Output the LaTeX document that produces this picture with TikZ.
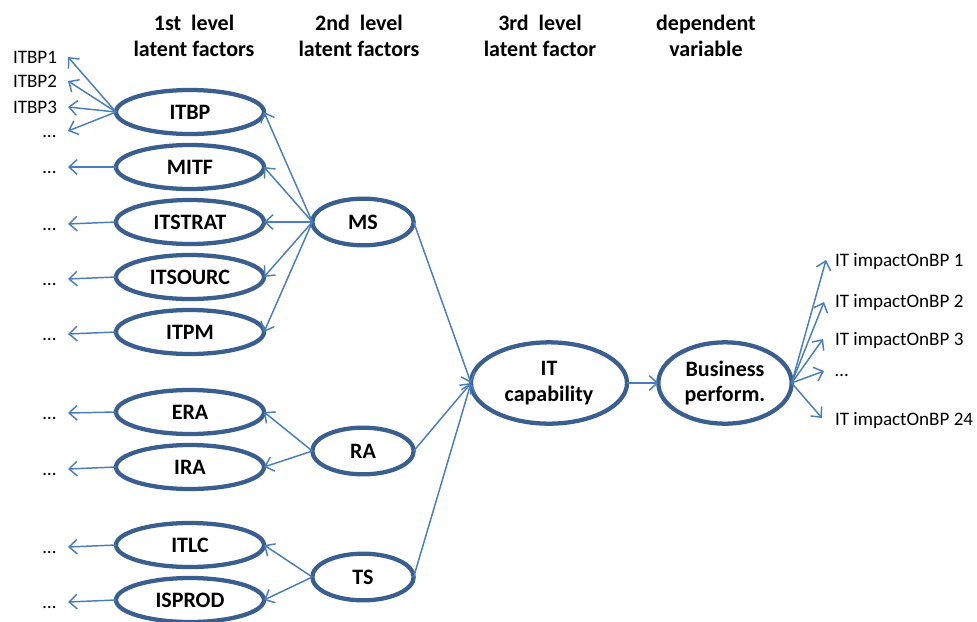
\documentclass[tikz,border=0pt]{standalone}
\usepackage{fontspec}
\setmainfont{Carlito}
\usetikzlibrary{shapes.geometric,arrows.meta}
\definecolor{ringblue}{HTML}{3A5F8F}
\definecolor{linkblue}{HTML}{4A7EBB}
\begin{document}
\begin{tikzpicture}[x=0.75pt,y=-0.75pt,
  every node/.style={font=\fontsize{14.3}{19}\selectfont, inner sep=0pt, outer sep=0pt},
  factor/.style={ellipse, draw=ringblue, line width=3.2pt, fill=white,
    minimum width=111pt, minimum height=33pt, font=\bfseries\fontsize{16.5}{19}\selectfont},
  second/.style={factor, minimum width=76pt, minimum height=35pt},
  third/.style={factor, align=center, minimum height=61pt},
  head/.style={align=center, font=\bfseries\fontsize{16.5}{19.5}\selectfont},
  item/.style={anchor=base east},
  outitem/.style={anchor=base west},
  link/.style={draw=linkblue, line width=1.1pt, -{Straight Barb[length=6pt,width=11pt]}}]
\useasboundingbox (0,0) rectangle (977,621);

% column headings
\node[head] (h1) at (194,36) {1st~ level\\latent factors};
\node[head] (h2) at (359,36) {2nd~ level\\latent factors};
\node[head] (h3) at (540,36) {3rd~ level\\latent factor};
\node[head] (h4) at (706,36) {dependent\\variable};

% first-level factors
\node[factor] (ITBP)    at (190,112) {ITBP};
\node[factor] (MITF)    at (190,167) {MITF};
\node[factor] (ITSTRAT) at (190,222) {ITSTRAT};
\node[factor] (ITSOURC) at (190,277) {ITSOURC};
\node[factor] (ITPM)    at (190,332) {ITPM};
\node[factor] (ERA)     at (190,412) {ERA};
\node[factor] (IRA)     at (190,467) {IRA};
\node[factor] (ITLC)    at (190,545) {ITLC};
\node[factor] (ISPROD)  at (190,600) {ISPROD};

% second-level factors
\node[second] (MS) at (363,222) {MS};
\node[second] (RA) at (363,451) {RA};
\node[second] (TS) at (363,577) {TS};

% third level and dependent variable
\node[third, minimum width=117pt] (ITC) at (549,383) {IT\\capability};
\node[third, minimum width=100pt] (BP)  at (725,383) {Business\\perform.};

% indicator tips on the left
\coordinate (t1) at (68,57);
\coordinate (t2) at (68,81);
\coordinate (t3) at (68,107);
\coordinate (t4) at (68,131);
\coordinate (t5) at (68,167);
\coordinate (t6) at (68,224);
\coordinate (t7) at (68,279);
\coordinate (t8) at (68,334);
\coordinate (t9) at (68,413);
\coordinate (t10) at (68,469);
\coordinate (t11) at (68,547);
\coordinate (t12) at (68,602);

\node[item] (l1) at (57,63) {ITBP1};
\node[item] (l2) at (57,87) {ITBP2};
\node[item] (l3) at (57,113) {ITBP3};
\node[item] (l4) at (56,137) {\dots};
\node[item] (l5) at (56,173) {\dots};
\node[item] (l6) at (56,230) {\dots};
\node[item] (l7) at (56,285) {\dots};
\node[item] (l8) at (56,340) {\dots};
\node[item] (l9) at (56,419) {\dots};
\node[item] (l10) at (56,475) {\dots};
\node[item] (l11) at (56,553) {\dots};
\node[item] (l12) at (56,608) {\dots};

% indicator tips on the right
\coordinate (r1) at (826,260);
\coordinate (r2) at (824,302);
\coordinate (r3) at (823,339);
\coordinate (r4) at (824,371);
\coordinate (r5) at (822,418);

\node[outitem] (o1) at (835,266) {IT impactOnBP 1};
\node[outitem] (o2) at (835,307) {IT impactOnBP 2};
\node[outitem] (o3) at (835,345) {IT impactOnBP 3};
\node[outitem] (o4) at (835,376) {\dots};
\node[outitem] (o5) at (835,425) {IT impactOnBP 24};

% loadings of the first-level factors
\foreach \t in {t1,t2,t3,t4} \draw[link] (ITBP.west) -- (\t);
\draw[link] (MITF.west) -- (t5);
\draw[link] (ITSTRAT.west) -- (t6);
\draw[link] (ITSOURC.west) -- (t7);
\draw[link] (ITPM.west) -- (t8);
\draw[link] (ERA.west) -- (t9);
\draw[link] (IRA.west) -- (t10);
\draw[link] (ITLC.west) -- (t11);
\draw[link] (ISPROD.west) -- (t12);

% second level to first level
\foreach \f in {ITBP,MITF,ITSTRAT,ITSOURC,ITPM} \draw[link] (MS.west) -- (\f.east);
\foreach \f in {ERA,IRA} \draw[link] (RA.west) -- (\f.east);
\foreach \f in {ITLC,ISPROD} \draw[link] (TS.west) -- (\f.east);

% second level to third level
\draw[link] (MS.east) -- (ITC.west);
\draw[link] (RA.east) -- (ITC.west);
\draw[link] (TS.east) -- (ITC.west);

% capability to performance, and its indicators
\draw[link] (ITC.east) -- (BP.west);
\foreach \r in {r1,r2,r3,r4,r5} \draw[link] (BP.east) -- (\r);
\end{tikzpicture}
\end{document}
